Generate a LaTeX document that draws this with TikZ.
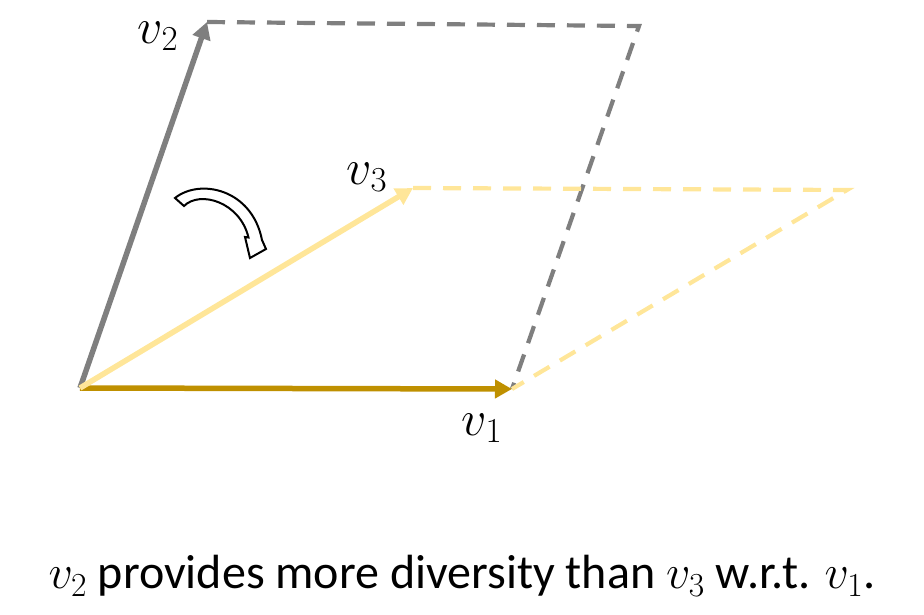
\RequirePackage{fix-cm}
\documentclass[tikz,border=0pt]{standalone}
\usepackage{fontspec}
\setmainfont{Carlito}
\usetikzlibrary{arrows.meta}
\definecolor{vgray}{HTML}{7F7F7F}
\definecolor{vgold}{HTML}{BF9000}
\definecolor{vyel}{HTML}{FFE699}
\tikzset{
  vec/.style={line width=5.5pt, -{Triangle[length=17pt,width=18pt]}},
  parline/.style={line width=4.2pt, dash pattern=on 18pt off 12pt},
  lab/.style={inner sep=0pt, font=\fontsize{50}{56}\selectfont},
  captext/.style={inner sep=0pt, font=\fontsize{48}{54}\selectfont}
}
\begin{document}
\begin{tikzpicture}[x=1pt,y=-1pt]
\useasboundingbox (0,0) rectangle (924,614);
\coordinate (O) at (80,388);
\coordinate (A) at (512,389);
\coordinate (B) at (207,22);
\coordinate (C) at (413,188);
\coordinate (D) at (639,26);
\coordinate (E) at (847,190);
% v2
\draw[vec, vgray] (O) -- (B);
\draw[parline, vgray] (B) -- (D) -- (A);
% v1
\draw[vec, vgold] (O) -- (A);
% v3
\draw[vec, vyel] (O) -- (C);
\draw[parline, vyel] (C) -- (E) -- (A);
% curved block arrow
\draw[line width=2pt, fill=white, line join=miter]
  (175,198) .. controls (200,178) and (252,189) .. (262,240)
  -- (266,249) -- (250,258) -- (245,237) -- (248.5,237.5)
  .. controls (240,202) and (200,190) .. (184,206) -- cycle;
% labels
\node[lab] (l2) at (158,36) {$v_2$};
\node[lab] (l3) at (367,177) {$v_3$};
\node[lab] (l1) at (482,428) {$v_1$};
\node[captext] (caption) at (462,576) {$v_2$ provides more diversity than $v_3$ w.r.t. $v_1$.};
\end{tikzpicture}
\end{document}
